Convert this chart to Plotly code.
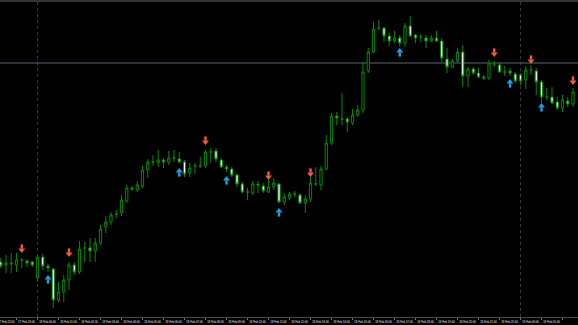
import plotly.graph_objects as go

# ---- data (price units) ----
bar_index = list(range(110))
opens = [138,135,136,135,140,139,138,122,143,134,131,100,108,120,135,128,152,152,149,157,
         173,178,186,187,199,212,210,214,230,238,237,240,238,242,241,238,227,234,234,234,
         248,249,240,233,231,225,216,208,207,216,214,208,213,216,198,202,206,205,197,201,
         216,215,231,257,284,281,281,277,285,290,329,348,372,372,364,359,362,357,374,365,
         363,362,359,362,359,341,333,339,348,324,331,327,323,322,336,335,328,329,326,325,
         320,330,329,318,303,303,298,292,299,296]
highs = [142,145,147,147,142,141,139,145,146,136,132,118,125,138,138,159,158,162,162,175,
         184,188,190,205,215,214,219,234,241,245,250,242,249,250,248,240,237,237,243,250,
         252,252,242,235,233,227,218,212,219,219,217,220,222,217,207,208,209,207,205,223,
         233,234,265,287,288,307,283,291,295,338,352,378,380,373,367,369,365,377,384,366,
         366,365,365,369,362,352,341,352,355,333,333,332,325,340,339,337,334,332,328,327,
         334,335,332,320,312,313,303,305,303,312]
lows = [132,127,127,128,132,133,133,118,130,128,92,98,98,110,125,126,138,138,138,155,
        167,175,182,184,197,209,208,212,222,234,233,232,235,238,237,223,223,226,232,232,
        237,238,232,228,223,213,207,200,205,207,207,207,210,197,195,200,203,196,187,198,
        214,210,230,255,275,275,268,275,283,287,327,347,370,358,354,357,353,353,363,357,
        358,352,358,358,338,327,332,337,313,313,325,322,320,320,333,327,324,324,317,315,
        311,325,305,297,300,296,290,288,293,293]
closes = [134,137,137,140,140,137,135,143,134,132,100,108,120,135,128,151,152,149,157,171,
          178,185,186,200,212,211,215,230,238,238,240,238,242,242,238,226,232,234,234,248,
          248,241,233,231,225,216,208,208,216,215,209,213,217,198,203,206,206,197,201,217,
          216,231,257,284,282,281,278,285,290,328,348,371,372,364,359,362,357,374,364,362,
          363,359,362,359,342,333,339,348,324,331,327,323,322,337,336,328,328,327,319,319,
          330,330,318,303,303,297,292,300,296,308]

sell_idx = [4, 13, 39, 51, 59, 94, 101, 109]
sell_level = [147, 143, 255, 220, 223, 343, 336, 315]
buy_idx = [9, 34, 43, 53, 76, 97, 103]
buy_level = [125, 232, 224, 192, 352, 321, 297]

separator_idx = [7, 99]
bid_level = 337

tick_idx = list(range(-1, 108, 4))
tick_labels = (["17 Feb 22:00", "17 Feb 23:00"]
               + ["18 Feb %02d:00" % h for h in range(23)]
               + ["19 Feb 00:00", "19 Feb 01:00", "19 Feb 02:00"])

# ---- style ----
GREEN = "#008a00"
RED = "#f25c45"
BLUE = "#1ea0e6"
X_RANGE = [-0.143, 109.95]
Y_RANGE = [83, 398]
HEAD = 6.0          # triangle marker size (px == price units here)
R = HEAD / 2
LABEL_FONT = dict(family="Liberation Sans", size=2.8, color="#f0f0f0")

fig = go.Figure()
fig.add_trace(go.Candlestick(
    x=bar_index, open=opens, high=highs, low=lows, close=closes,
    increasing=dict(line=dict(color=GREEN, width=1), fillcolor="#000000"),
    decreasing=dict(line=dict(color=GREEN, width=1), fillcolor="#ffffff"),
    whiskerwidth=0, hoverinfo="skip", showlegend=False))

# sell arrows (pointing down, tip at level)
fig.add_trace(go.Scatter(x=sell_idx, y=[v + R for v in sell_level], mode="markers",
                         marker=dict(symbol="triangle-down", size=HEAD, color=RED),
                         hoverinfo="skip", showlegend=False, cliponaxis=False))
fig.add_trace(go.Scatter(x=sell_idx, y=[v + 1.5 * R + 2.0 for v in sell_level], mode="markers",
                         marker=dict(symbol="line-ns", size=3.0, line=dict(color=RED, width=2.4)),
                         hoverinfo="skip", showlegend=False, cliponaxis=False))
# buy arrows (pointing up, tip at level)
fig.add_trace(go.Scatter(x=buy_idx, y=[v - R for v in buy_level], mode="markers",
                         marker=dict(symbol="triangle-up", size=HEAD, color=BLUE),
                         hoverinfo="skip", showlegend=False, cliponaxis=False))
fig.add_trace(go.Scatter(x=buy_idx, y=[v - 1.5 * R - 2.0 for v in buy_level], mode="markers",
                         marker=dict(symbol="line-ns", size=3.0, line=dict(color=BLUE, width=2.4)),
                         hoverinfo="skip", showlegend=False, cliponaxis=False))

shapes = []
for s in separator_idx:
    shapes.append(dict(type="line", xref="x", yref="paper", x0=s, x1=s, y0=0, y1=1,
                       line=dict(color="#383838", width=1, dash="dot"), layer="below"))
shapes.append(dict(type="line", xref="paper", yref="y", x0=0, x1=1, y0=bid_level, y1=bid_level,
                   line=dict(color="#5b6670", width=1), layer="below"))
shapes.append(dict(type="rect", xref="paper", yref="paper", x0=0, x1=1, y0=1, y1=1.007,
                   fillcolor="#333333", line=dict(width=0)))

annotations = []
# partially visible first label (its tick lies left of the visible range, cut as in the original)
first_frac = (tick_idx[0] - X_RANGE[0]) / (X_RANGE[1] - X_RANGE[0])
annotations.append(dict(xref="paper", yref="paper", x=first_frac, y=0, xanchor="left",
                        yanchor="top", xshift=1, yshift=-1.5, showarrow=False, text=tick_labels[0],
                        font=LABEL_FONT, borderpad=0))

fig.update_layout(
    width=578, height=325,
    margin=dict(l=0, r=0, t=2, b=8),
    paper_bgcolor="#000000", plot_bgcolor="#000000",
    boxgap=0.4,
    shapes=shapes, annotations=annotations,
    xaxis=dict(range=X_RANGE, rangeslider=dict(visible=False), showgrid=False, zeroline=False,
               tickmode="array", tickvals=tick_idx[1:], ticktext=tick_labels[1:],
               ticks="outside", ticklen=2, tickcolor="#707070", tickwidth=1,
               ticklabelshift=10, ticklabelstandoff=0,
               tickfont=LABEL_FONT,
               showline=True, linecolor="#4a4a4a", linewidth=1, fixedrange=True),
    yaxis=dict(range=Y_RANGE, showgrid=False, zeroline=False, showticklabels=False,
               showline=False, fixedrange=True),
    hovermode=False,
)

fig.write_html("out.html", config={"displayModeBar": False})
